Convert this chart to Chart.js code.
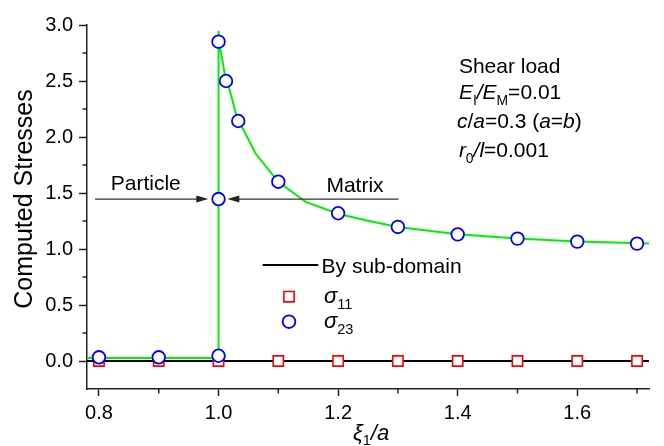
<!DOCTYPE html>
<html>
<head>
<meta charset="utf-8">
<script src="https://cdn.jsdelivr.net/npm/chart.js@4/dist/chart.umd.min.js"></script>
<style>
  html, body { margin: 0; padding: 0; background: #fff; }
  canvas { display: block; }
</style>
</head>
<body>
<canvas id="c" width="664" height="446"></canvas>
<script>
// ---- data ----
const xMajorTicks = [0.8, 1.0, 1.2, 1.4, 1.6];
const xMinorTicks = [0.9, 1.1, 1.3, 1.5, 1.7];
const yMajorTicks = [0, 0.5, 1.0, 1.5, 2.0, 2.5, 3.0];
const yMinorTicks = [0.25, 0.75, 1.25, 1.75, 2.25, 2.75];

const sigma11X = [0.8, 0.9, 1.0, 1.1, 1.2, 1.3, 1.4, 1.5, 1.6, 1.7];
const sigma11Y = [0, 0, 0, 0, 0, 0, 0, 0, 0, 0];

const sigma23X = [0.8, 0.9, 1.0, 1.0, 1.0, 1.0125, 1.033, 1.1, 1.2, 1.3, 1.4, 1.5, 1.6, 1.7];
const sigma23Y = [0.033, 0.033, 0.047, 1.446, 2.851, 2.50, 2.143, 1.601, 1.319, 1.197, 1.131, 1.093, 1.066, 1.048];

// sub-domain solution for sigma23 (green)
const greenX = [0.78, 1.0, 1.0, 1.001, 1.0125, 1.0172, 1.0304, 1.062, 1.1, 1.146, 1.2, 1.246, 1.3, 1.4, 1.5, 1.6, 1.72];
const greenY = [0.027, 0.027, 2.946, 2.85, 2.50, 2.449, 2.181, 1.852, 1.60, 1.42, 1.315, 1.256, 1.197, 1.131, 1.093, 1.066, 1.05];

// sub-domain solution for sigma11 (black)
const blackX = [0.78, 1.72];
const blackY = [0, 0];

const xRange = [0.78, 1.72];
const yRange = [-0.25, 3.0];

const toPts = (xs, ys) => xs.map((v, i) => ({ x: v, y: ys[i] }));

const FONT = '"Liberation Sans", Arial, Helvetica, sans-serif';

function drawRich(ctx, x, y, parts, size, align) {
  const fontOf = p => (p.i ? 'italic ' : '') + (p.s ? size * 0.66 : size) + 'px ' + FONT;
  let total = 0;
  parts.forEach(p => { ctx.font = fontOf(p); total += ctx.measureText(p.t).width; });
  let cx = x;
  if (align === 'center') cx = x - total / 2;
  ctx.textAlign = 'left';
  ctx.textBaseline = 'alphabetic';
  parts.forEach(p => {
    ctx.font = fontOf(p);
    ctx.fillText(p.t, cx, y + (p.s ? size * 0.27 : 0));
    cx += ctx.measureText(p.t).width;
  });
}

function arrow(ctx, x1, x2, y) {
  const dir = Math.sign(x2 - x1);
  ctx.save();
  ctx.strokeStyle = '#333';
  ctx.fillStyle = '#222';
  ctx.lineWidth = 1.2;
  ctx.beginPath();
  ctx.moveTo(x1, y);
  ctx.lineTo(x2 - dir * 10, y);
  ctx.stroke();
  ctx.beginPath();
  ctx.moveTo(x2, y);
  ctx.lineTo(x2 - dir * 12, y - 3.5);
  ctx.lineTo(x2 - dir * 12, y + 3.5);
  ctx.closePath();
  ctx.fill();
  ctx.restore();
}

const decor = {
  id: 'decor',
  afterDraw(chart) {
    const ctx = chart.ctx;
    const xs = chart.scales.x, ys = chart.scales.y;
    const X = v => xs.getPixelForValue(v), Y = v => ys.getPixelForValue(v);
    ctx.save();
    // minor ticks
    ctx.strokeStyle = '#222';
    ctx.lineWidth = 1.5;
    xMinorTicks.forEach(v => {
      const p = X(v);
      ctx.beginPath(); ctx.moveTo(p, ys.bottom); ctx.lineTo(p, ys.bottom + 4.5); ctx.stroke();
    });
    yMinorTicks.forEach(v => {
      const p = Y(v);
      ctx.beginPath(); ctx.moveTo(xs.left - 4.5, p); ctx.lineTo(xs.left, p); ctx.stroke();
    });

    ctx.fillStyle = '#000';
    // axis titles
    ctx.save();
    ctx.translate(25, 199);
    ctx.rotate(-Math.PI / 2);
    ctx.font = '25px ' + FONT;
    ctx.textAlign = 'center';
    ctx.textBaseline = 'middle';
    ctx.fillText('Computed Stresses', 0, 0);
    ctx.restore();

    drawRich(ctx, (xs.left + xs.right) / 2 + 3, 439.5,
      [{ t: 'ξ', i: 1 }, { t: '1', s: 1 }, { t: '/', i: 1 }, { t: 'a', i: 1 }], 22, 'center');

    // arrows and region labels
    arrow(ctx, X(0.7934), X(0.9829), Y(1.446));
    arrow(ctx, X(1.3013), X(1.0147), Y(1.446));
    drawRich(ctx, X(0.8783), Y(1.527), [{ t: 'Particle' }], 21, 'center');
    drawRich(ctx, X(1.2282), Y(1.513), [{ t: 'Matrix' }], 21, 'center');

    // parameter block
    const px = X(1.402);
    drawRich(ctx, px, Y(2.571), [{ t: 'Shear load' }], 21);
    drawRich(ctx, px, Y(2.339), [{ t: 'E', i: 1 }, { t: 'I', s: 1 }, { t: '/', i: 1 }, { t: 'E', i: 1 }, { t: 'M', s: 1 }, { t: '=0.01' }], 21);
    drawRich(ctx, px - 2, Y(2.080), [{ t: 'c', i: 1 }, { t: '/' }, { t: 'a', i: 1 }, { t: '=0.3 (' }, { t: 'a', i: 1 }, { t: '=' }, { t: 'b', i: 1 }, { t: ')' }], 21);
    drawRich(ctx, px, Y(1.821), [{ t: 'r', i: 1 }, { t: '0', s: 1 }, { t: '/', i: 1 }, { t: 'l', i: 1 }, { t: '=0.001' }], 21);

    // legend
    const dsBlack = chart.data.datasets[2], ds11 = chart.data.datasets[1], ds23 = chart.data.datasets[0];
    ctx.strokeStyle = dsBlack.borderColor;
    ctx.lineWidth = dsBlack.borderWidth;
    ctx.beginPath(); ctx.moveTo(X(1.0739), Y(0.857)); ctx.lineTo(X(1.1669), Y(0.857)); ctx.stroke();
    ctx.fillStyle = '#000';
    drawRich(ctx, X(1.1723), Y(0.790), [{ t: 'By sub-domain' }], 21);
    const mark = (ds, cx, cy) => {
      ctx.save();
      ctx.strokeStyle = ds.pointBorderColor;
      ctx.fillStyle = ds.pointBackgroundColor;
      ctx.lineWidth = ds.pointBorderWidth;
      Chart.helpers.drawPoint(ctx, { pointStyle: ds.pointStyle, radius: ds.pointRadius, borderWidth: ds.pointBorderWidth, rotation: 0 }, cx, cy);
      ctx.restore();
    };
    mark(ds11, X(1.1179), Y(0.574));
    mark(ds23, X(1.1179), Y(0.351));
    ctx.fillStyle = '#000';
    drawRich(ctx, X(1.1764), Y(0.515), [{ t: 'σ', i: 1 }, { t: '11', s: 1 }], 22);
    drawRich(ctx, X(1.1764), Y(0.292), [{ t: 'σ', i: 1 }, { t: '23', s: 1 }], 22);
    ctx.restore();
  }
};

new Chart(document.getElementById('c'), {
  type: 'scatter',
  data: {
    datasets: [
      {
        label: 'σ23',
        data: toPts(sigma23X, sigma23Y),
        showLine: false,
        pointStyle: 'circle',
        pointRadius: 6.3,
        pointBorderWidth: 1.8,
        pointBorderColor: '#0000ff',
        pointBackgroundColor: '#ffffff'
      },
      {
        label: 'σ11',
        data: toPts(sigma11X, sigma11Y),
        showLine: false,
        pointStyle: 'rect',
        pointRadius: 7.3,
        pointBorderWidth: 1.6,
        pointBorderColor: '#ff0000',
        pointBackgroundColor: '#ffffff'
      },
      {
        label: 'By sub-domain',
        data: toPts(blackX, blackY),
        showLine: true,
        borderColor: '#000000',
        borderWidth: 2,
        pointRadius: 0,
        tension: 0
      },
      {
        label: 'sub-domain σ23',
        data: toPts(greenX, greenY),
        showLine: true,
        borderColor: '#00f000',
        borderWidth: 2,
        pointRadius: 0,
        tension: 0
      }
    ]
  },
  options: {
    responsive: false,
    devicePixelRatio: 1,
    animation: false,
    layout: { padding: { left: 0, top: 25, right: 15, bottom: 0 } },
    plugins: { legend: { display: false }, tooltip: { enabled: false } },
    scales: {
      x: {
        type: 'linear',
        min: xRange[0], max: xRange[1],
        afterBuildTicks: s => { s.ticks = xMajorTicks.map(v => ({ value: v })); },
        afterFit: s => { s.height = 57; },
        ticks: {
          color: '#000',
          font: { family: FONT, size: 20 },
          padding: 5,
          maxRotation: 0,
          callback: v => Number(v).toFixed(1)
        },
        grid: { drawOnChartArea: false, drawTicks: true, tickLength: 7, tickColor: '#222', tickWidth: 1.5 },
        border: { display: true, color: '#222', width: 1.5 }
      },
      y: {
        type: 'linear',
        min: yRange[0], max: yRange[1],
        afterBuildTicks: s => { s.ticks = yMajorTicks.map(v => ({ value: v })); },
        afterFit: s => { s.width = 87; },
        ticks: {
          color: '#000',
          font: { family: FONT, size: 20 },
          padding: 6,
          callback: v => Number(v).toFixed(1)
        },
        grid: { drawOnChartArea: false, drawTicks: true, tickLength: 8, tickColor: '#222', tickWidth: 1.5 },
        border: { display: true, color: '#222', width: 1.5 }
      }
    }
  },
  plugins: [decor]
});
</script>
</body>
</html>
